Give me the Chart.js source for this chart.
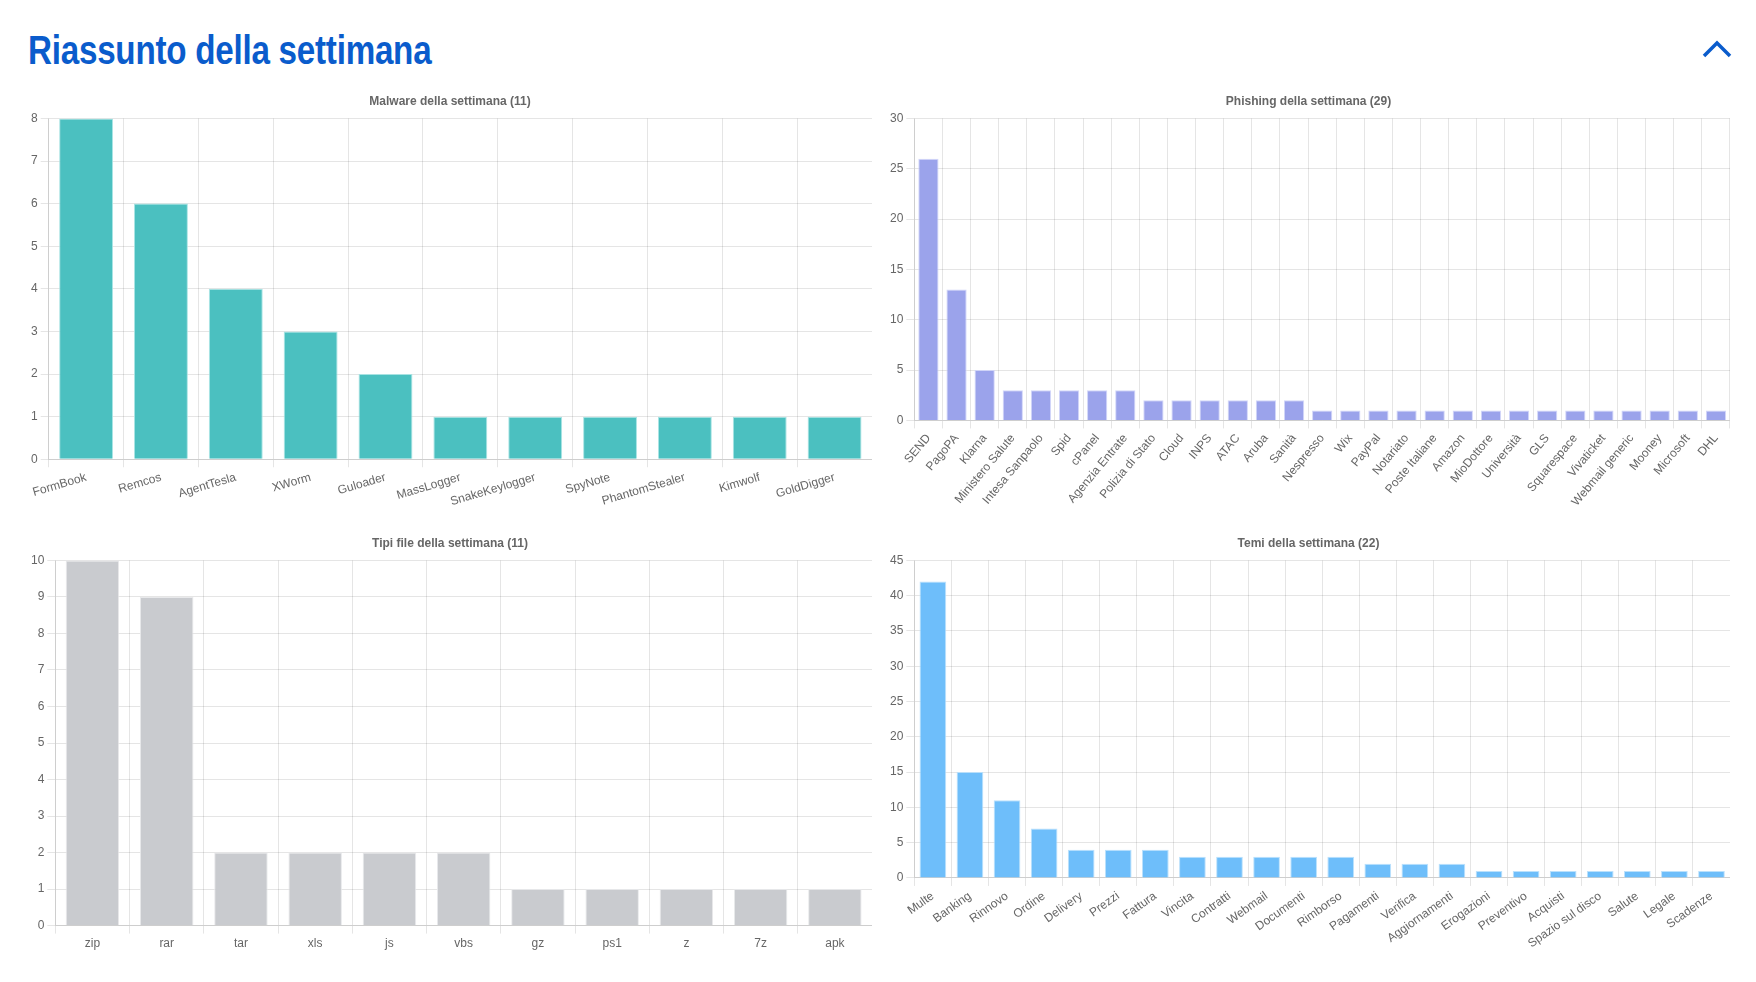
<!DOCTYPE html>
<html>
<head>
<meta charset="utf-8">
<script src="https://cdn.jsdelivr.net/npm/chart.js@4/dist/chart.umd.min.js"></script>
<style>
  html, body { margin: 0; padding: 0; background: #fff; }
  body { width: 1756px; height: 982px; position: relative; overflow: hidden; }
  h1 {
    position: absolute; left: 28px; top: 28px; margin: 0;
    font-family: "Liberation Sans Narrow", "Liberation Sans", sans-serif;
    font-weight: bold; font-size: 40px; color: #0a5ccc; letter-spacing: -0.3px;
    transform: scaleX(0.83); transform-origin: left top; white-space: nowrap;
  }
  .chevron { position: absolute; left: 1700px; top: 36px; }
  .box { position: absolute; }
  #b1 { left: 28px;  top: 84px;  width: 844px; height: 428px; }
  #b2 { left: 887px; top: 84px;  width: 843px; height: 428px; }
  #b3 { left: 28px;  top: 526px; width: 844px; height: 428px; }
  #b4 { left: 887px; top: 526px; width: 843px; height: 428px; }
</style>
</head>
<body>
<h1>Riassunto della settimana</h1>
<svg class="chevron" width="34" height="24"><polyline points="4,20 17,7 30,20" fill="none" stroke="#0a5ccc" stroke-width="3.5"/></svg>

<div class="box" id="b1"><canvas id="c1"></canvas></div>
<div class="box" id="b2"><canvas id="c2"></canvas></div>
<div class="box" id="b3"><canvas id="c3"></canvas></div>
<div class="box" id="b4"><canvas id="c4"></canvas></div>

<script>
// ==============================
// Dati
// ==============================
const malwareLabels = ["FormBook", "Remcos", "AgentTesla", "XWorm", "Guloader", "MassLogger", "SnakeKeylogger", "SpyNote", "PhantomStealer", "Kimwolf", "GoldDigger"];
const malwareValues = [8, 6, 4, 3, 2, 1, 1, 1, 1, 1, 1];

const phishingLabels = ["SEND", "PagoPA", "Klarna", "Ministero Salute", "Intesa Sanpaolo", "Spid", "cPanel", "Agenzia Entrate", "Polizia di Stato", "Cloud", "INPS", "ATAC", "Aruba", "Sanità", "Nespresso", "Wix", "PayPal", "Notariato", "Poste Italiane", "Amazon", "MioDottore", "Università", "GLS", "Squarespace", "Vivaticket", "Webmail generic", "Mooney", "Microsoft", "DHL"];
const phishingValues = [26, 13, 5, 3, 3, 3, 3, 3, 2, 2, 2, 2, 2, 2, 1, 1, 1, 1, 1, 1, 1, 1, 1, 1, 1, 1, 1, 1, 1];

const fileLabels = ["zip", "rar", "tar", "xls", "js", "vbs", "gz", "ps1", "z", "7z", "apk"];
const fileValues = [10, 9, 2, 2, 2, 2, 1, 1, 1, 1, 1];

const temiLabels = ["Multe", "Banking", "Rinnovo", "Ordine", "Delivery", "Prezzi", "Fattura", "Vincita", "Contratti", "Webmail", "Documenti", "Rimborso", "Pagamenti", "Verifica", "Aggiornamenti", "Erogazioni", "Preventivo", "Acquisti", "Spazio sul disco", "Salute", "Legale", "Scadenze"];
const temiValues = [42, 15, 11, 7, 4, 4, 4, 3, 3, 3, 3, 3, 2, 2, 2, 1, 1, 1, 1, 1, 1, 1];

// ==============================
// Grafici
// ==============================
Chart.defaults.font.family = "'Liberation Sans', Arial, sans-serif";
Chart.defaults.font.size = 12;
Chart.defaults.color = "#666";

function creaGrafico(id, titolo, labels, values, colore, bordo, yMax, step) {
  return new Chart(document.getElementById(id), {
    type: "bar",
    data: {
      labels: labels,
      datasets: [{
        data: values,
        backgroundColor: colore,
        borderColor: bordo,
        borderWidth: 1
      }]
    },
    options: {
      responsive: true,
      maintainAspectRatio: false,
      animation: false,
      plugins: {
        legend: { display: false },
        title: { display: true, text: titolo, font: { size: 12, weight: "bold" }, color: "#666" },
        tooltip: { enabled: false }
      },
      scales: {
        x: { ticks: { autoSkip: false } },
        y: { beginAtZero: true, max: yMax, ticks: { stepSize: step } }
      }
    }
  });
}

creaGrafico("c1", "Malware della settimana (11)", malwareLabels, malwareValues, "rgb(75,192,192)", "rgba(160,225,225,0.9)", 8, 1);
creaGrafico("c2", "Phishing della settimana (29)", phishingLabels, phishingValues, "rgb(155,163,235)", "rgba(205,210,248,0.9)", 30, 5);
creaGrafico("c3", "Tipi file della settimana (11)", fileLabels, fileValues, "rgb(201,203,207)", "rgba(230,231,233,0.9)", 10, 1);
creaGrafico("c4", "Temi della settimana (22)", temiLabels, temiValues, "rgb(110,190,250)", "rgba(180,222,252,0.9)", 45, 5);
</script>
</body>
</html>
